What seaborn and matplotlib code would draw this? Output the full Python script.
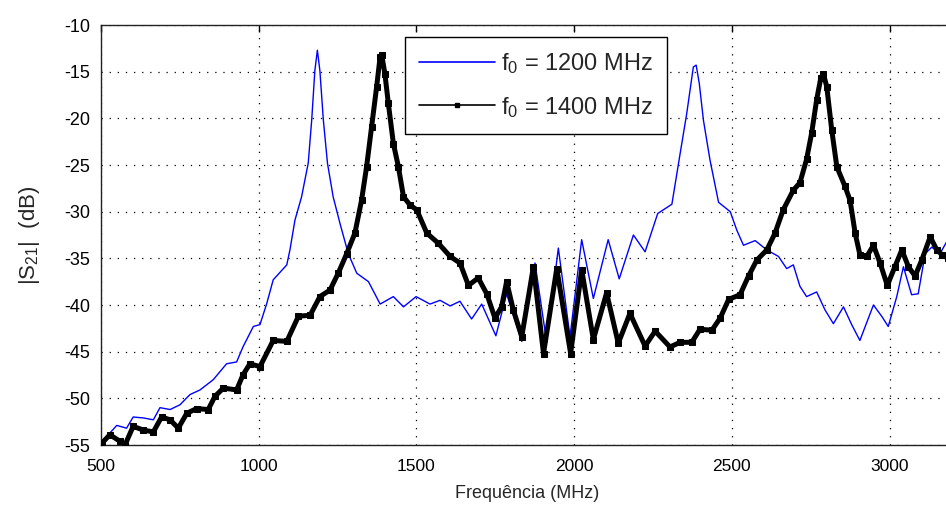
import matplotlib
matplotlib.use("Agg")
import matplotlib.pyplot as plt
from matplotlib.lines import Line2D
import seaborn as sns
import pandas as pd

# ---- data ----
freq_1200 = [505, 518, 550, 581, 602, 634, 666, 687, 719, 750, 782, 814, 856, 898, 930, 950,
             983, 1004, 1025, 1046, 1089, 1099, 1115, 1136, 1157, 1168, 1178, 1186, 1194, 1205,
             1218, 1236, 1258, 1284, 1311, 1348, 1385, 1427, 1459, 1499, 1543, 1575, 1607, 1638,
             1675, 1707, 1752, 1786, 1834, 1876, 1913, 1950, 1987, 2024, 2061, 2108, 2143, 2188,
             2225, 2265, 2310, 2336, 2357, 2378, 2387, 2397, 2410, 2431, 2458, 2495, 2516, 2537,
             2574, 2611, 2648, 2674, 2695, 2716, 2737, 2769, 2795, 2822, 2854, 2880, 2906, 2949,
             2975, 2996, 3023, 3044, 3070, 3091, 3113, 3134, 3160, 3185, 3200]
s21_1200 = [-54.8, -54.1, -52.9, -53.2, -52.0, -52.1, -52.3, -51.0, -51.2, -50.7, -49.6, -49.1,
            -48.0, -46.3, -46.1, -44.5, -42.3, -42.1, -39.9, -37.3, -35.7, -34.1, -30.9, -28.4,
            -24.8, -20.2, -14.9, -12.7, -14.9, -20.2, -24.8, -28.4, -31.3, -34.5, -36.6, -37.5,
            -39.9, -39.1, -40.2, -39.1, -39.9, -39.5, -40.1, -39.6, -41.5, -39.9, -43.3, -38.8,
            -43.9, -35.5, -44.0, -33.9, -43.4, -33.0, -39.3, -33.0, -37.2, -32.5, -34.3, -30.2,
            -29.2, -23.8, -19.5, -14.5, -14.3, -16.3, -20.2, -24.5, -29.0, -30.0, -32.0, -33.6,
            -33.1, -34.1, -34.8, -36.1, -35.7, -38.0, -39.1, -38.6, -40.5, -42.0, -40.2, -42.1,
            -43.8, -40.0, -41.2, -42.3, -39.1, -35.9, -38.9, -38.8, -34.5, -33.8, -34.5, -33.0,
            -33.5]

freq_1400 = [503, 528, 560, 576, 602, 634, 666, 692, 719, 745, 772, 803, 840, 861, 888, 930,
             950, 972, 1004, 1046, 1089, 1126, 1163, 1194, 1226, 1252, 1279, 1305, 1326, 1342,
             1358, 1374, 1385, 1390, 1400, 1411, 1427, 1443, 1459, 1480, 1501, 1533, 1570, 1607,
             1638, 1665, 1696, 1723, 1749, 1770, 1786, 1807, 1834, 1871, 1903, 1945, 1989, 2024,
             2061, 2103, 2140, 2177, 2225, 2257, 2304, 2336, 2373, 2399, 2437, 2463, 2490, 2526,
             2553, 2579, 2611, 2637, 2663, 2695, 2716, 2737, 2753, 2769, 2782, 2790, 2801, 2817,
             2833, 2859, 2875, 2891, 2906, 2928, 2949, 2970, 2993, 3017, 3039, 3060, 3081, 3102,
             3129, 3150, 3166, 3185, 3200]
s21_1400 = [-54.8, -53.9, -54.6, -55.0, -53.0, -53.4, -53.6, -52.0, -52.3, -53.2, -51.6, -51.1,
            -51.2, -49.8, -48.9, -49.1, -47.5, -46.3, -46.6, -43.8, -43.9, -41.2, -41.1, -39.1,
            -38.4, -36.6, -34.5, -32.3, -28.8, -25.2, -20.9, -16.6, -13.4, -13.2, -15.2, -18.4,
            -22.7, -25.2, -28.4, -29.3, -29.8, -32.3, -33.4, -34.8, -35.5, -37.9, -37.1, -38.8,
            -41.4, -40.2, -37.5, -40.5, -43.4, -35.9, -45.2, -36.1, -45.2, -36.2, -43.7, -38.7,
            -44.1, -40.9, -44.4, -42.8, -44.5, -44.0, -44.0, -42.6, -42.7, -41.4, -39.4, -38.9,
            -36.9, -35.2, -34.1, -32.3, -29.8, -27.7, -26.9, -24.4, -21.6, -18.0, -15.7, -15.2,
            -16.6, -21.3, -25.2, -27.3, -28.8, -32.3, -34.6, -34.8, -33.6, -35.5, -37.9, -35.9,
            -34.1, -35.9, -36.9, -35.2, -32.7, -34.1, -34.6, -35.0, -35.5]

labels = ["1200 MHz", "1400 MHz"]
x_ticks = [500, 1000, 1500, 2000, 2500, 3000]
y_ticks = [-10, -15, -20, -25, -30, -35, -40, -45, -50, -55]

sns.set_style("white")
plt.rcParams["font.family"] = ["Liberation Sans", "DejaVu Sans"]
plt.rcParams["mathtext.default"] = "regular"

df1 = pd.DataFrame({"f": freq_1200, "s": s21_1200})
df2 = pd.DataFrame({"f": freq_1400, "s": s21_1400})

fig = plt.figure(figsize=(9.46, 5.07), dpi=100)
ax = fig.add_axes([101 / 946, 62 / 507, 851.6 / 946, 420 / 507])

sns.lineplot(data=df1, x="f", y="s", color="#0000ff", lw=1.0, ax=ax,
             sort=False, estimator=None, zorder=3)
sns.lineplot(data=df2, x="f", y="s", color="black", lw=3.6, ax=ax,
             sort=False, estimator=None, marker="s", markersize=4,
             markeredgecolor="black", zorder=4)

ax.set_xlim(500, 3200)
ax.set_ylim(-55, -10)
ax.set_xticks(x_ticks)
ax.set_yticks(y_ticks)
ax.set_xticklabels([str(t) for t in x_ticks])
ax.set_yticklabels([str(t) for t in y_ticks])
ax.tick_params(direction="in", length=5, width=1, top=True, right=True,
               colors="black")
ax.tick_params(axis="x", labelsize=12.5, pad=10)
ax.tick_params(axis="y", labelsize=13, pad=8)
ax.grid(True, color="black", linestyle=(0, (1, 5.5)), linewidth=0.9)
for sp in ax.spines.values():
    sp.set_visible(True)
    sp.set_color("#222222")
    sp.set_linewidth(1.0)

ax.set_xlabel("Frequência (MHz)", fontsize=13, labelpad=8)
ax.set_ylabel(r"|S$_{21}$|  (dB)", fontsize=16, labelpad=16)

handles = [Line2D([], [], color="#0000ff", lw=1.2),
           Line2D([], [], color="black", lw=1.2, marker="s", markersize=3)]
leg = ax.legend(handles, [r"f$_0$ = " + labels[0], r"f$_0$ = " + labels[1]],
                loc="upper left", bbox_to_anchor=(0.357, 0.972), frameon=True,
                fancybox=False, edgecolor="black", framealpha=1,
                prop={"family": ["Liberation Sans", "DejaVu Sans"], "size": 17},
                handlelength=3.2, handletextpad=0.25, labelspacing=0.8,
                borderpad=0.6, borderaxespad=0)
leg.get_frame().set_linewidth(1.0)

fig.savefig("out.png", dpi=100)
